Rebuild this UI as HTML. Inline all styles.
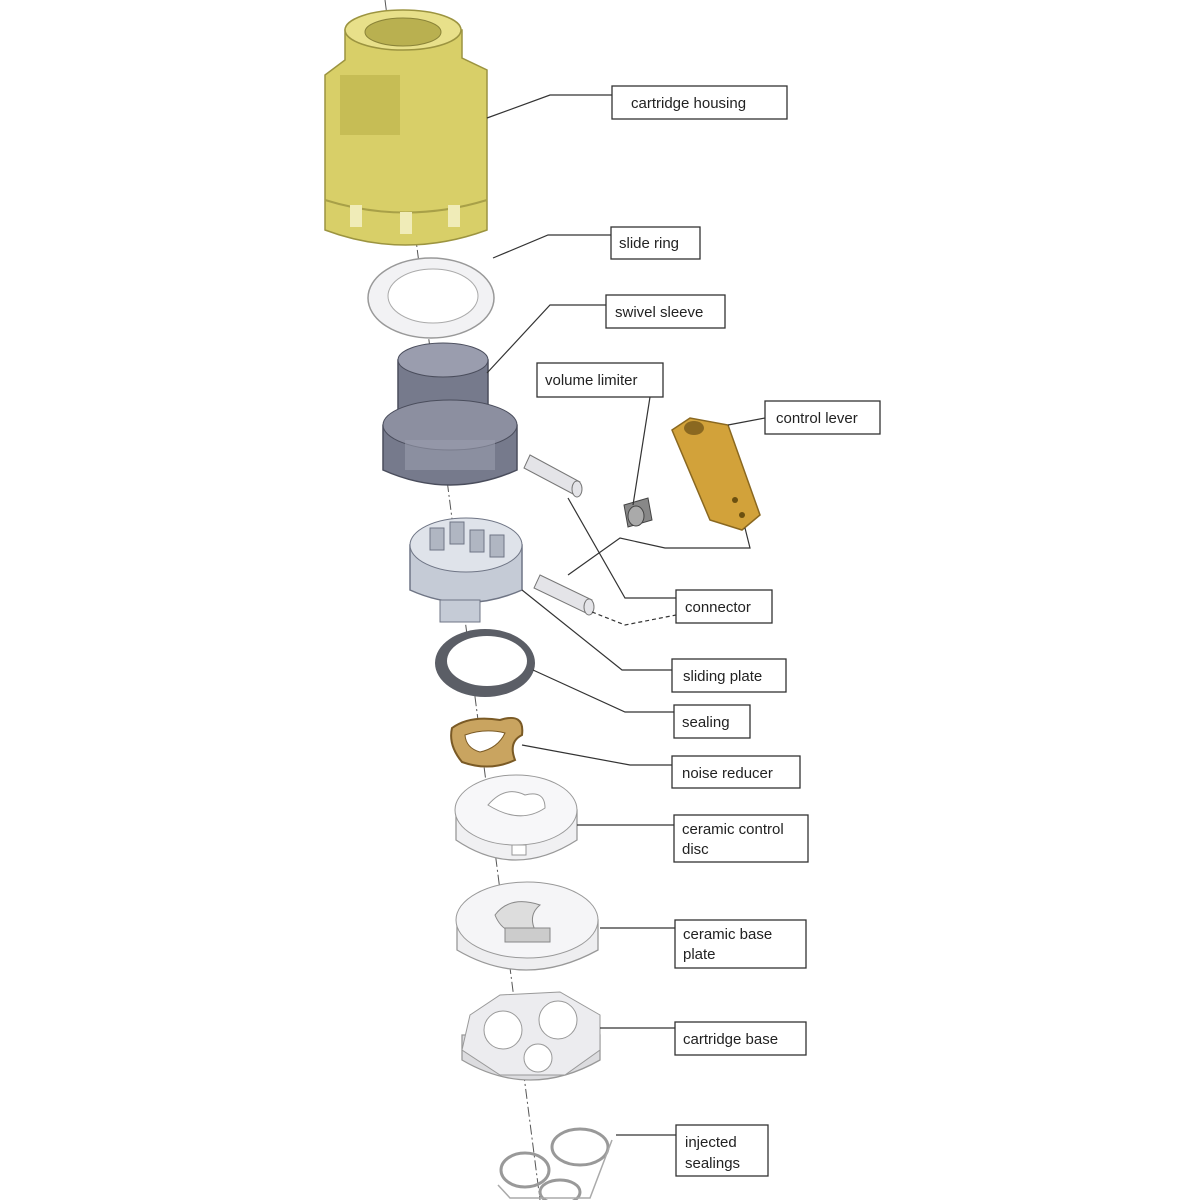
<!DOCTYPE html>
<html><head><meta charset="utf-8"><style>
html,body{margin:0;padding:0;background:#fff;}
svg{display:block}
text{font-family:"Liberation Sans",Arial,sans-serif;font-size:15px;fill:#222}
.b{fill:#fff;stroke:#333;stroke-width:1.3}
.l{fill:none;stroke:#333;stroke-width:1.2}
</style></head><body>
<svg width="1200" height="1200" viewBox="0 0 1200 1200" xmlns="http://www.w3.org/2000/svg">
<!-- axis -->
<line x1="385" y1="0" x2="540" y2="1200" stroke="#555" stroke-width="1" stroke-dasharray="10,3,2,3"/>

<!-- cartridge housing -->
<path d="M345 30 L345 60 L325 75 L325 230 Q405 260 487 230 L487 70 L462 58 L462 30 Z" fill="#d8cf68" stroke="#9c9440" stroke-width="1.5"/>
<ellipse cx="403" cy="30" rx="58" ry="20" fill="#e8e08a" stroke="#9c9440" stroke-width="1.5"/>
<ellipse cx="403" cy="32" rx="38" ry="14" fill="#b9b050" stroke="#8a8338"/>
<rect x="340" y="75" width="60" height="60" fill="#c6bd55"/>
<path d="M325 200 Q405 225 487 200" fill="none" stroke="#a8a048" stroke-width="2"/>
<rect x="350" y="205" width="12" height="22" fill="#f0ecb8"/>
<rect x="400" y="212" width="12" height="22" fill="#f0ecb8"/>
<rect x="448" y="205" width="12" height="22" fill="#f0ecb8"/>

<!-- slide ring -->
<ellipse cx="431" cy="298" rx="63" ry="40" fill="#f2f2f4" stroke="#999" stroke-width="1.5"/>
<ellipse cx="433" cy="296" rx="45" ry="27" fill="#fff" stroke="#aaa"/>

<!-- swivel sleeve -->
<path d="M398 360 L398 415 L383 425 L383 470 Q450 500 517 470 L517 425 L488 410 L488 360 Z" fill="#767a8c" stroke="#4a4d5c" stroke-width="1.5"/>
<ellipse cx="443" cy="360" rx="45" ry="17" fill="#9a9dae" stroke="#4a4d5c"/>
<ellipse cx="450" cy="425" rx="67" ry="25" fill="#8c8fa0" stroke="#4a4d5c"/>
<rect x="405" y="440" width="90" height="30" fill="#9a9dae" opacity=".6"/>

<!-- pins -->
<g fill="#e4e4e8" stroke="#777">
<path d="M530 455 L580 482 L575 495 L524 468 Z"/>
<ellipse cx="577" cy="489" rx="5" ry="8"/>
<path d="M540 575 L592 600 L586 613 L534 588 Z"/>
<ellipse cx="589" cy="607" rx="5" ry="8"/>
</g>

<!-- volume limiter -->
<path d="M624 505 L648 498 L652 520 L628 527 Z" fill="#888" stroke="#444"/>
<ellipse cx="636" cy="516" rx="8" ry="10" fill="#aaa" stroke="#444"/>

<!-- control lever -->
<path d="M672 430 L690 418 L728 425 L760 515 L742 530 L710 520 Z" fill="#d2a23a" stroke="#8a6820" stroke-width="1.5"/>
<ellipse cx="694" cy="428" rx="10" ry="7" fill="#8a6820"/>
<circle cx="735" cy="500" r="3" fill="#6b5010"/>
<circle cx="742" cy="515" r="3" fill="#6b5010"/>

<!-- sliding plate -->
<path d="M410 545 L410 590 Q465 615 522 590 L522 545 Z" fill="#c5cbd6" stroke="#6f7585" stroke-width="1.5"/>
<ellipse cx="466" cy="545" rx="56" ry="27" fill="#dfe3ea" stroke="#6f7585"/>
<g fill="#b0b6c2" stroke="#6f7585"><rect x="430" y="528" width="14" height="22"/><rect x="450" y="522" width="14" height="22"/><rect x="470" y="530" width="14" height="22"/><rect x="490" y="535" width="14" height="22"/></g>
<rect x="440" y="600" width="40" height="22" fill="#c5cbd6" stroke="#6f7585"/>

<!-- sealing -->
<ellipse cx="485" cy="663" rx="50" ry="34" fill="#5b5e66"/>
<ellipse cx="487" cy="661" rx="40" ry="25" fill="#fff"/>

<!-- noise reducer -->
<path d="M452 728 Q470 715 500 720 Q525 712 522 735 Q508 742 515 760 Q490 772 462 762 Q448 745 452 728 Z" fill="#c9a460" stroke="#7a5a25" stroke-width="2"/>
<path d="M465 735 Q485 728 505 733 Q498 748 480 752 Q466 748 465 735 Z" fill="#fff" stroke="#7a5a25"/>

<!-- ceramic control disc -->
<path d="M456 810 L456 840 Q515 880 577 840 L577 810 Z" fill="#f0f0f2" stroke="#999" stroke-width="1.3"/>
<ellipse cx="516" cy="810" rx="61" ry="35" fill="#f7f7f9" stroke="#999"/>
<path d="M488 805 Q505 785 525 795 Q545 790 545 808 Q520 825 488 805 Z" fill="#fff" stroke="#999"/>
<rect x="512" y="845" width="14" height="10" fill="#fff" stroke="#999"/>

<!-- ceramic base plate -->
<path d="M457 920 L457 950 Q525 990 598 950 L598 920 Z" fill="#eeeef0" stroke="#999" stroke-width="1.3"/>
<ellipse cx="527" cy="920" rx="71" ry="38" fill="#f5f5f7" stroke="#999"/>
<path d="M495 915 Q510 895 540 905 Q528 915 535 930 Q505 940 495 915 Z" fill="#ddd" stroke="#888"/>
<rect x="505" y="928" width="45" height="14" fill="#ccc" stroke="#888"/>

<!-- cartridge base -->
<path d="M462 1035 L462 1060 Q530 1100 600 1060 L600 1035 Z" fill="#dcdcdf" stroke="#999" stroke-width="1.3"/>
<path d="M470 1015 L500 995 L560 992 L600 1015 L600 1050 L565 1075 L500 1075 L462 1050 Z" fill="#ececef" stroke="#999"/>
<circle cx="503" cy="1030" r="19" fill="#fff" stroke="#999"/>
<circle cx="558" cy="1020" r="19" fill="#fff" stroke="#999"/>
<circle cx="538" cy="1058" r="14" fill="#fff" stroke="#999"/>

<!-- injected sealings -->
<g fill="none" stroke="#999" stroke-width="3">
<ellipse cx="525" cy="1170" rx="24" ry="17"/><ellipse cx="580" cy="1147" rx="28" ry="18"/><ellipse cx="560" cy="1192" rx="20" ry="12"/>
</g>
<path d="M498 1185 L510 1198 L590 1198 L612 1140" fill="none" stroke="#aaa" stroke-width="1.5"/>

<!-- leaders -->
<polyline class="l" points="487,118 550,95 612,95"/>
<polyline class="l" points="493,258 548,235 611,235"/>
<polyline class="l" points="487,373 550,305 606,305"/>
<polyline class="l" points="650,397 633,505"/>
<polyline class="l" points="728,425 765,418"/>
<polyline class="l" points="568,498 625,598 676,598"/>
<polyline class="l" points="568,575 620,538 665,548 750,548 745,528"/>
<polyline class="l" points="592,612 625,625 676,615" stroke-dasharray="4,3"/>
<polyline class="l" points="522,590 622,670 672,670"/>
<polyline class="l" points="533,670 625,712 674,712"/>
<polyline class="l" points="522,745 630,765 672,765"/>
<polyline class="l" points="577,825 674,825"/>
<polyline class="l" points="600,928 675,928"/>
<polyline class="l" points="600,1028 675,1028"/>
<polyline class="l" points="616,1135 676,1135"/>

<!-- label boxes -->
<rect class="b" x="612" y="86" width="175" height="33"/><text x="631" y="108">cartridge housing</text>
<rect class="b" x="611" y="227" width="89" height="32"/><text x="619" y="248">slide ring</text>
<rect class="b" x="606" y="295" width="119" height="33"/><text x="615" y="317">swivel sleeve</text>
<rect class="b" x="537" y="363" width="126" height="34"/><text x="545" y="385">volume limiter</text>
<rect class="b" x="765" y="401" width="115" height="33"/><text x="776" y="423">control lever</text>
<rect class="b" x="676" y="590" width="96" height="33"/><text x="685" y="612">connector</text>
<rect class="b" x="672" y="659" width="114" height="33"/><text x="683" y="681">sliding plate</text>
<rect class="b" x="674" y="705" width="76" height="33"/><text x="682" y="727">sealing</text>
<rect class="b" x="672" y="756" width="128" height="32"/><text x="682" y="778">noise reducer</text>
<rect class="b" x="674" y="815" width="134" height="47"/><text x="682" y="834">ceramic control</text><text x="682" y="854">disc</text>
<rect class="b" x="675" y="920" width="131" height="48"/><text x="683" y="939">ceramic base</text><text x="683" y="959">plate</text>
<rect class="b" x="675" y="1022" width="131" height="33"/><text x="683" y="1044">cartridge base</text>
<rect class="b" x="676" y="1125" width="92" height="51"/><text x="685" y="1147">injected</text><text x="685" y="1168">sealings</text>
</svg>
</body></html>
